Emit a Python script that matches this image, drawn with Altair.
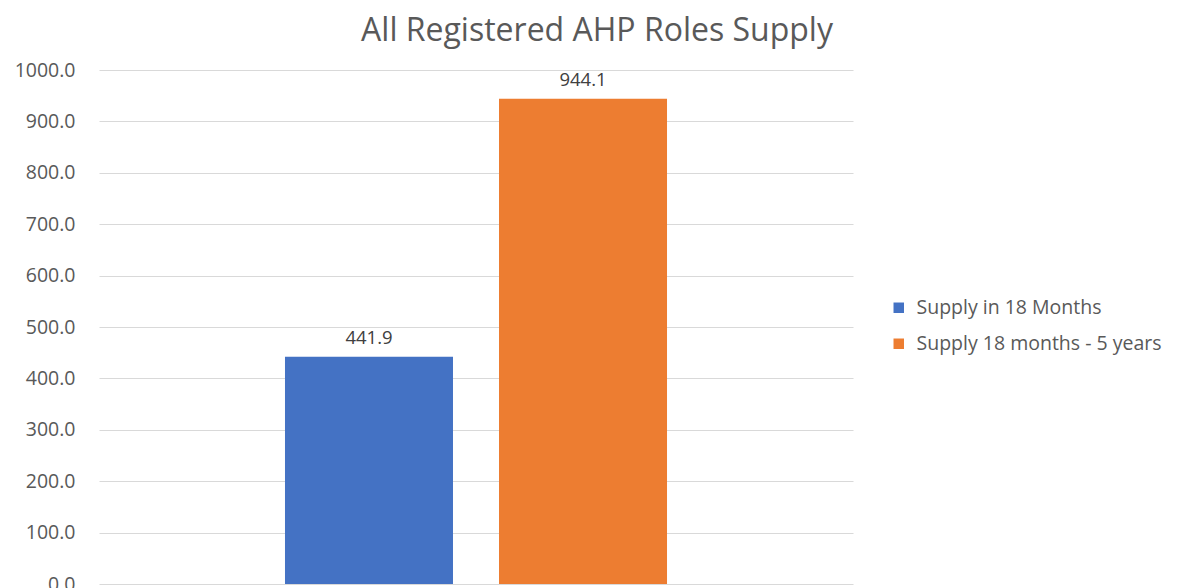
import altair as alt
import pandas as pd

series = ["Supply in 18 Months", "Supply 18 months - 5 years"]
values = [441.9, 944.1]
colors = ["#4472C4", "#ED7D31"]

df = pd.DataFrame({"series": series, "value": values})

FONT = "Open Sans"

x = alt.X("series:N", sort=series, axis=None,
          scale=alt.Scale(domain=series, paddingInner=0.215, paddingOuter=0.869))
y = alt.Y("value:Q", title=None,
          scale=alt.Scale(domain=[0, 1000], nice=False),
          axis=alt.Axis(values=[0, 100, 200, 300, 400, 500, 600, 700, 800, 900, 1000],
                        format=".1f", domain=False, ticks=False, labelPadding=24,
                        labelFont=FONT, labelFontSize=19.5, labelColor="#595959",
                        grid=True, gridColor="#d9d9d9", gridWidth=1))

bars = alt.Chart(df).mark_bar().encode(
    x=x, y=y,
    color=alt.Color("series:N", sort=series,
                    scale=alt.Scale(domain=series, range=colors),
                    legend=alt.Legend(title=None, orient="none", legendX=790, legendY=228,
                                      symbolType="square", symbolSize=110,
                                      labelFont=FONT, labelFontSize=19.5, labelColor="#595959",
                                      labelLimit=400, labelOffset=8,
                                      rowPadding=15, symbolStrokeWidth=0))
)

labels = alt.Chart(df).mark_text(baseline="bottom", dy=-9, font=FONT, fontSize=18.5,
                                 color="#404040").encode(
    x=x, y=y, text=alt.Text("value:Q", format=".1f")
)

chart = (bars + labels).properties(
    width=754, height=514,
    padding={"left": 91, "top": 62, "right": 324, "bottom": 10},
    autosize=alt.AutoSizeParams(type="none"),
    title=alt.TitleParams("All Registered AHP Roles Supply", font=FONT, fontSize=32,
                          fontWeight="normal", color="#595959", anchor="middle",
                          dx=121, offset=12)
).configure(background="white").configure_view(strokeWidth=0, stroke=None)

chart.save("out.html", embed_options={"renderer": "svg", "actions": False})
